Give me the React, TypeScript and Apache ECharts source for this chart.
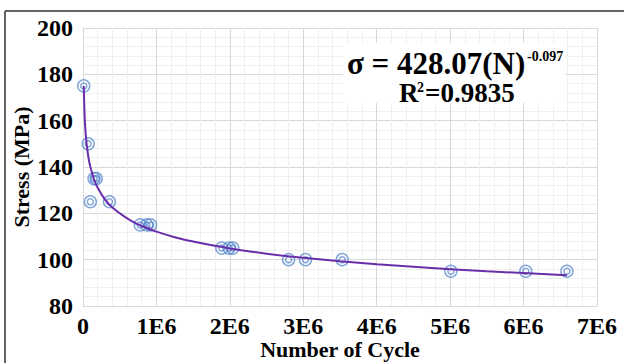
import React, { useEffect, useRef } from "react";
import * as echarts from "echarts";

// Measured fatigue data (cycles, stress MPa)
const cycles = [
  10000, 70000, 100000, 150000, 180000, 360000,
  780000, 870000, 920000, 1890000, 1990000, 2040000,
  2800000, 3030000, 3530000, 5010000, 6030000, 6590000,
];
const stress = [
  175, 150, 125, 135, 135, 125,
  115, 115, 115, 105, 105, 105,
  100, 100, 100, 95, 95, 95,
];

// Power-law trend line
const trendCycles = [
  10000, 20000, 30000, 50000, 75000, 100000, 150000, 200000, 300000, 400000,
  550000, 700000, 850000, 1000000, 1250000, 1500000, 2000000, 2500000,
  3000000, 3500000, 4000000, 4500000, 5000000, 5500000, 6000000, 6590000,
];
const trendStress = [
  175, 163.8, 157.5, 149.8, 144.0, 140.1, 134.7, 131.0, 125.9, 122.5,
  118.9, 116.0, 113.9, 112.1, 109.7, 107.8, 104.8, 102.6,
  100.8, 99.3, 98.0, 96.9, 95.9, 95.0, 94.2, 93.3,
];

const xTicks = ["0", "1E6", "2E6", "3E6", "4E6", "5E6", "6E6", "7E6"];
const FONT = "Liberation Serif, Times New Roman, DejaVu Serif, serif";

export default function App() {
  const ref = useRef<HTMLDivElement>(null);
  useEffect(() => {
    if (!ref.current) return;
    const chart = echarts.init(ref.current, null, { renderer: "svg" });
    const points = cycles.map((c, i) => [c, stress[i]]);
    const trend = trendCycles.map((c, i) => [c, trendStress[i]]);
    const markerColor = "rgba(74,126,200,0.85)";
    const txt = (text: string, x: number, y: number, size: number) => ({
      type: "text",
      x,
      y,
      z: 11,
      style: {
        text,
        fontFamily: FONT,
        fontWeight: "bold",
        fontSize: size,
        fill: "#000",
        align: "left",
        verticalAlign: "middle",
      },
    });
    chart.setOption({
      animation: false,
      backgroundColor: "#ffffff",
      textStyle: { fontFamily: FONT },
      grid: {
        left: 83,
        top: 28,
        right: 27,
        bottom: 57,
        containLabel: false,
        outerBoundsMode: "none",
      },
      xAxis: {
        type: "value",
        min: 0,
        max: 7000000,
        interval: 1000000,
        name: "Number of Cycle",
        nameLocation: "middle",
        nameGap: 32,
        nameMoveOverlap: false,
        nameTextStyle: {
          fontFamily: FONT,
          fontWeight: "bold",
          fontSize: 22,
          lineHeight: 22,
          color: "#000",
        },
        axisLine: { show: true, lineStyle: { color: "#d9d9d9", width: 1 } },
        axisTick: { show: false },
        axisLabel: {
          margin: 8,
          fontFamily: FONT,
          fontWeight: "bold",
          fontSize: 24,
          lineHeight: 24,
          color: "#000",
          formatter: (v: number) => xTicks[Math.round(v / 1000000)] ?? "",
        },
        splitLine: { show: true, lineStyle: { color: "#d9d9d9", width: 1 } },
        minorTick: { show: false, splitNumber: 5 },
        minorSplitLine: { show: true, lineStyle: { color: "#efefef", width: 1 } },
      },
      yAxis: {
        type: "value",
        min: 80,
        max: 200,
        interval: 20,
        name: "Stress (MPa)",
        nameLocation: "middle",
        nameGap: 51,
        nameRotate: 90,
        nameMoveOverlap: false,
        nameTextStyle: { fontFamily: FONT, fontWeight: "bold", fontSize: 22, color: "#000" },
        axisLine: { show: true, lineStyle: { color: "#d9d9d9", width: 1 } },
        axisTick: { show: false },
        axisLabel: {
          margin: 10,
          fontFamily: FONT,
          fontWeight: "bold",
          fontSize: 24,
          color: "#000",
        },
        splitLine: { show: true, lineStyle: { color: "#d9d9d9", width: 1 } },
        minorTick: { show: false, splitNumber: 5 },
        minorSplitLine: { show: true, lineStyle: { color: "#efefef", width: 1 } },
      },
      series: [
        {
          type: "scatter",
          data: points,
          symbol: "circle",
          symbolSize: 12,
          itemStyle: { color: "rgba(255,255,255,0)", borderColor: markerColor, borderWidth: 1.5 },
          z: 2,
        },
        {
          type: "scatter",
          data: points,
          symbol: "circle",
          symbolSize: 6,
          itemStyle: { color: "rgba(255,255,255,0)", borderColor: markerColor, borderWidth: 1.5 },
          z: 2,
        },
        {
          type: "line",
          data: trend,
          smooth: 0.3,
          showSymbol: false,
          lineStyle: { color: "#6a2eaa", width: 2 },
          z: 3,
        },
      ],
      graphic: [
        {
          type: "line",
          shape: { x1: 5, y1: 11, x2: 624, y2: 11 },
          style: { stroke: "#333", lineWidth: 1.5 },
          silent: true,
        },
        {
          type: "line",
          shape: { x1: 5, y1: 11, x2: 5, y2: 363 },
          style: { stroke: "#333", lineWidth: 1.5 },
          silent: true,
        },
        {
          type: "rect",
          shape: { x: 343, y: 43, width: 222, height: 60 },
          style: { fill: "#ffffff" },
          z: 10,
        },
        txt("σ = 428.07(N)", 347, 63, 31),
        txt("-0.097", 527, 56, 14),
        txt("R", 399, 93, 27),
        txt("2", 417, 87, 14),
        txt("=0.9835", 425, 93, 27),
      ],
    });
    return () => chart.dispose();
  }, []);
  return (
    <div
      ref={ref}
      style={{ position: "fixed", left: 0, top: 0, width: 624, height: 363, background: "#fff" }}
    />
  );
}
